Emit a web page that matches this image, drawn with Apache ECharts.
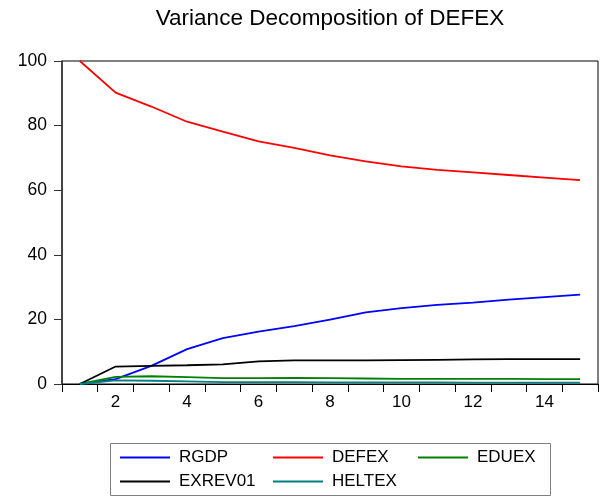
<!DOCTYPE html>
<html>
<head>
<meta charset="utf-8">
<script src="https://cdn.jsdelivr.net/npm/echarts@6/dist/echarts.min.js"></script>
<style>html,body{margin:0;padding:0;background:#fff}#c{width:606px;height:497px}</style>
</head>
<body>
<div id="c"></div>
<script>
var categories = ['1','2','3','4','5','6','7','8','9','10','11','12','13','14','15'];
var RGDP    = [0, 1.5, 5.6, 10.8, 14.2, 16.2, 17.9, 19.9, 22.2, 23.5, 24.5, 25.2, 26.1, 26.9, 27.7];
var DEFEX   = [100, 90.2, 85.9, 81.2, 78.1, 75.1, 73.1, 70.8, 68.9, 67.4, 66.3, 65.5, 64.7, 63.9, 63.1];
var EDUEX   = [0, 2.2, 2.4, 2.1, 1.8, 1.8, 1.9, 1.8, 1.7, 1.6, 1.6, 1.6, 1.6, 1.5, 1.5];
var EXREV01 = [0, 5.4, 5.6, 5.8, 6.1, 7.0, 7.3, 7.3, 7.3, 7.4, 7.5, 7.6, 7.7, 7.7, 7.7];
var HELTEX  = [0, 1.1, 1.0, 0.8, 0.6, 0.6, 0.6, 0.5, 0.5, 0.5, 0.5, 0.4, 0.4, 0.4, 0.4];
var yTicks = [0, 20, 40, 60, 80, 100];

var FONT = '"Liberation Sans", Arial, sans-serif';
var seriesDefs = [
  {name: 'RGDP', data: RGDP, color: '#0000FF'},
  {name: 'DEFEX', data: DEFEX, color: '#FF0000'},
  {name: 'EDUEX', data: EDUEX, color: '#008000'},
  {name: 'EXREV01', data: EXREV01, color: '#000000'},
  {name: 'HELTEX', data: HELTEX, color: '#008080'}
];
var legendPos = [
  {left: 120, top: 449}, {left: 273, top: 449}, {left: 418, top: 449},
  {left: 120, top: 473}, {left: 273, top: 473}
];

var chart = echarts.init(document.getElementById('c'));
chart.setOption({
  backgroundColor: '#fff',
  animation: false,
  title: {
    text: 'Variance Decomposition of DEFEX',
    left: 330, textAlign: 'center', top: 7, padding: 0,
    textStyle: {fontFamily: FONT, fontSize: 22.5, fontWeight: 'normal', color: '#000'}
  },
  grid: {left: 62, right: 8, top: 61, bottom: 113, containLabel: false,
         show: true, borderColor: '#000', borderWidth: 1},
  xAxis: {
    type: 'category', data: categories, boundaryGap: true,
    axisLine: {lineStyle: {color: '#000', width: 1}},
    axisTick: {show: true, interval: 0, length: 8, inside: false, lineStyle: {color: '#000'}},
    axisLabel: {interval: function (i) { return i % 2 === 1; }, margin: 10,
                fontFamily: FONT, fontSize: 17, color: '#000'},
    splitLine: {show: false}
  },
  yAxis: {
    type: 'value', min: yTicks[0], max: yTicks[yTicks.length - 1], interval: 20,
    axisLine: {show: true, lineStyle: {color: '#333', width: 1.5}},
    axisTick: {show: true, length: 8, lineStyle: {color: '#333'}},
    axisLabel: {margin: 15, fontFamily: FONT, fontSize: 17.5, color: '#000'},
    splitLine: {show: false}
  },
  legend: seriesDefs.map(function (s, i) {
    return {
      data: [{name: s.name, icon: 'rect'}], left: legendPos[i].left, top: legendPos[i].top,
      padding: 0, itemWidth: 50, itemHeight: 2, selectedMode: false,
      textStyle: {fontFamily: FONT, fontSize: 17, color: '#000', padding: [0, 0, 0, 4]}
    };
  }),
  graphic: [{
    type: 'rect', silent: true,
    shape: {x: 110.5, y: 443.5, width: 440, height: 52},
    style: {fill: 'none', stroke: '#808080', lineWidth: 1}
  }],
  series: seriesDefs.map(function (s) {
    return {
      name: s.name, type: 'line', data: s.data, symbol: 'none',
      lineStyle: {color: s.color, width: 1.8}, itemStyle: {color: s.color},
      emphasis: {disabled: true}
    };
  })
});
</script>
</body>
</html>
